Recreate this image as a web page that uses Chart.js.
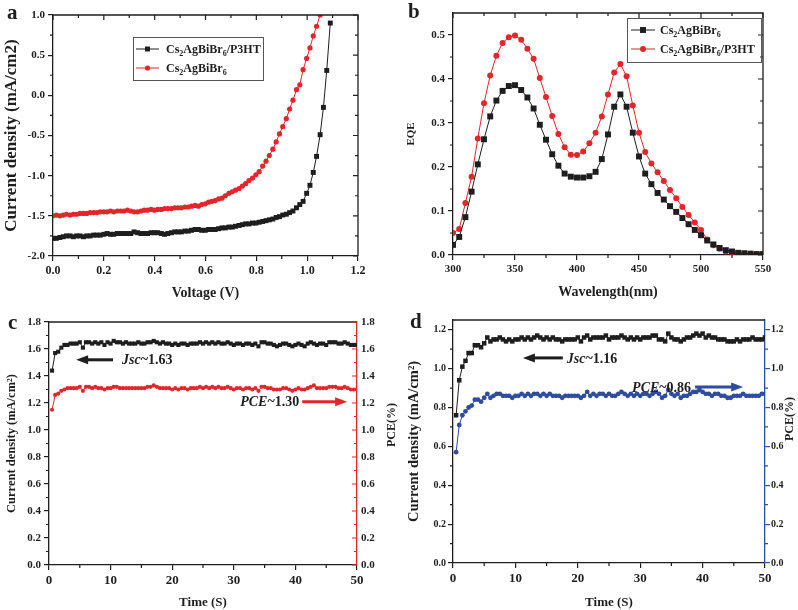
<!DOCTYPE html>
<html>
<head>
<meta charset="utf-8">
<script src="https://cdn.jsdelivr.net/npm/chart.js@4.4.1/dist/chart.umd.min.js"></script>
<style>
  body { margin: 0; background: #fff; }
  #wrap { position: relative; width: 798px; height: 610px; }
  canvas { position: absolute; }
</style>
</head>
<body>
<div id="wrap">
  <canvas id="chartA" width="400" height="305" style="left:0;top:0"></canvas>
  <canvas id="chartB" width="398" height="305" style="left:400px;top:0"></canvas>
  <canvas id="chartC" width="400" height="305" style="left:0;top:305px"></canvas>
  <canvas id="chartD" width="398" height="305" style="left:400px;top:305px"></canvas>
</div>
<script>
// ---- (a) J-V curves ----
const voltage = [0.000,0.013,0.027,0.040,0.053,0.067,0.080,0.093,0.106,0.120,
  0.133,0.146,0.160,0.173,0.186,0.200,0.213,0.226,0.239,0.253,
  0.266,0.279,0.293,0.306,0.319,0.333,0.346,0.359,0.372,0.386,
  0.399,0.412,0.426,0.439,0.452,0.466,0.479,0.492,0.505,0.519,
  0.532,0.545,0.559,0.572,0.585,0.599,0.612,0.625,0.638,0.652,
  0.665,0.678,0.692,0.705,0.718,0.732,0.745,0.758,0.771,0.785,
  0.798,0.811,0.825,0.838,0.851,0.865,0.878,0.891,0.904,0.918,
  0.931,0.944,0.958,0.971,0.984,0.998,1.011,1.024,1.037,1.051,
  1.064,1.077,1.091];
const jvP3HT = [-1.78,-1.78,-1.77,-1.76,-1.75,-1.75,-1.76,-1.75,-1.75,-1.76,
  -1.75,-1.75,-1.74,-1.74,-1.74,-1.73,-1.72,-1.73,-1.73,-1.72,
  -1.72,-1.72,-1.72,-1.72,-1.70,-1.71,-1.72,-1.72,-1.72,-1.71,
  -1.71,-1.71,-1.72,-1.73,-1.72,-1.71,-1.70,-1.70,-1.70,-1.69,
  -1.69,-1.68,-1.67,-1.67,-1.68,-1.68,-1.67,-1.67,-1.67,-1.66,
  -1.65,-1.65,-1.64,-1.64,-1.63,-1.62,-1.61,-1.60,-1.60,-1.59,
  -1.59,-1.58,-1.57,-1.56,-1.55,-1.54,-1.52,-1.51,-1.49,-1.48,
  -1.46,-1.44,-1.40,-1.36,-1.32,-1.22,-1.12,-0.96,-0.76,-0.49,
  -0.15,0.31,0.90];
const jvBare = [-1.50,-1.49,-1.50,-1.49,-1.48,-1.49,-1.48,-1.48,-1.47,-1.47,
  -1.47,-1.46,-1.46,-1.46,-1.45,-1.45,-1.45,-1.44,-1.45,-1.44,
  -1.44,-1.44,-1.43,-1.44,-1.45,-1.45,-1.44,-1.43,-1.43,-1.42,
  -1.43,-1.42,-1.42,-1.41,-1.41,-1.41,-1.40,-1.40,-1.40,-1.39,
  -1.39,-1.38,-1.37,-1.38,-1.36,-1.35,-1.33,-1.32,-1.31,-1.29,
  -1.28,-1.25,-1.22,-1.20,-1.18,-1.16,-1.13,-1.10,-1.06,-1.03,
  -0.99,-0.95,-0.88,-0.82,-0.75,-0.67,-0.58,-0.48,-0.39,-0.29,
  -0.17,-0.06,0.07,0.13,0.32,0.46,0.59,0.74,0.86,1.00];

// ---- (b) EQE ----
const wavelength = [300,305,310,315,320,325,330,335,340,345,350,355,360,365,370,375,380,385,390,395,
  400,405,410,415,420,425,430,435,440,445,450,455,460,465,470,475,480,485,490,495,
  500,505,510,515,520,525,530,535,540,545,550];
const eqeBare = [0.023,0.041,0.086,0.144,0.206,0.263,0.315,0.351,0.373,0.384,
  0.386,0.375,0.358,0.333,0.296,0.262,0.229,0.203,0.185,0.178,
  0.176,0.176,0.179,0.189,0.218,0.274,0.337,0.365,0.337,0.278,
  0.224,0.185,0.161,0.141,0.126,0.111,0.098,0.084,0.070,0.057,
  0.045,0.033,0.024,0.016,0.011,0.008,0.005,0.004,0.003,0.002,0.002];
const eqeP3HT = [0.050,0.059,0.118,0.178,0.265,0.345,0.408,0.453,0.482,0.495,
  0.499,0.489,0.469,0.446,0.402,0.359,0.316,0.275,0.245,0.228,
  0.227,0.235,0.254,0.278,0.315,0.365,0.415,0.434,0.406,0.340,
  0.278,0.234,0.208,0.188,0.168,0.148,0.129,0.109,0.091,0.074,
  0.057,0.035,0.022,0.014,0.008,0.006,0.004,0.003,0.003,0.002,0.002];

// ---- (c), (d) stability ----
const time = [0.5,1,1.5,2,2.5,3,3.5,4,4.5,5,5.5,6,6.5,7,7.5,8,8.5,9,9.5,10,
  10.5,11,11.5,12,12.5,13,13.5,14,14.5,15,15.5,16,16.5,17,17.5,18,18.5,19,19.5,20,
  20.5,21,21.5,22,22.5,23,23.5,24,24.5,25,25.5,26,26.5,27,27.5,28,28.5,29,29.5,30,
  30.5,31,31.5,32,32.5,33,33.5,34,34.5,35,35.5,36,36.5,37,37.5,38,38.5,39,39.5,40,
  40.5,41,41.5,42,42.5,43,43.5,44,44.5,45,45.5,46,46.5,47,47.5,48,48.5,49,49.5,50];
const jscC = [1.44,1.57,1.58,1.61,1.63,1.63,1.64,1.64,1.64,1.65,
  1.61,1.65,1.65,1.64,1.65,1.64,1.65,1.63,1.65,1.64,
  1.66,1.65,1.65,1.64,1.65,1.64,1.64,1.64,1.65,1.64,
  1.64,1.65,1.65,1.66,1.65,1.64,1.65,1.64,1.64,1.63,
  1.64,1.63,1.64,1.64,1.63,1.64,1.64,1.64,1.65,1.64,
  1.65,1.64,1.65,1.64,1.65,1.64,1.64,1.65,1.64,1.63,
  1.64,1.64,1.63,1.64,1.64,1.63,1.64,1.62,1.65,1.65,
  1.64,1.64,1.63,1.62,1.63,1.64,1.64,1.63,1.62,1.63,
  1.64,1.63,1.62,1.64,1.65,1.64,1.63,1.64,1.64,1.63,
  1.65,1.65,1.65,1.64,1.64,1.65,1.64,1.63,1.63,1.63];
const pceC = [1.15,1.26,1.27,1.29,1.30,1.31,1.31,1.31,1.31,1.32,
  1.29,1.32,1.32,1.31,1.32,1.31,1.31,1.30,1.31,1.31,
  1.32,1.32,1.31,1.31,1.31,1.31,1.31,1.31,1.31,1.31,
  1.31,1.32,1.32,1.33,1.32,1.31,1.31,1.31,1.31,1.30,
  1.31,1.30,1.31,1.31,1.30,1.31,1.31,1.31,1.32,1.31,
  1.32,1.31,1.32,1.31,1.32,1.31,1.31,1.32,1.31,1.30,
  1.31,1.31,1.30,1.31,1.31,1.30,1.31,1.29,1.32,1.32,
  1.31,1.31,1.30,1.30,1.30,1.31,1.31,1.30,1.29,1.30,
  1.31,1.30,1.30,1.31,1.32,1.33,1.31,1.31,1.31,1.31,
  1.32,1.32,1.32,1.31,1.31,1.32,1.31,1.30,1.30,1.30];
const jscD = [0.76,0.94,1.01,1.04,1.08,1.08,1.12,1.12,1.11,1.13,
  1.16,1.14,1.15,1.15,1.16,1.15,1.14,1.15,1.14,1.15,
  1.15,1.16,1.15,1.16,1.15,1.16,1.17,1.16,1.15,1.16,
  1.15,1.16,1.15,1.15,1.14,1.15,1.15,1.15,1.15,1.16,
  1.14,1.16,1.17,1.15,1.16,1.16,1.16,1.16,1.17,1.15,
  1.16,1.16,1.16,1.17,1.16,1.15,1.16,1.15,1.16,1.15,
  1.16,1.16,1.16,1.17,1.17,1.15,1.15,1.14,1.18,1.16,
  1.15,1.15,1.14,1.15,1.16,1.16,1.17,1.18,1.17,1.18,
  1.16,1.17,1.16,1.16,1.15,1.15,1.15,1.14,1.14,1.14,
  1.15,1.14,1.15,1.15,1.15,1.16,1.15,1.15,1.15,1.16];
const pceD = [0.57,0.71,0.76,0.78,0.80,0.81,0.84,0.84,0.83,0.85,
  0.87,0.85,0.86,0.87,0.87,0.86,0.86,0.86,0.85,0.86,
  0.86,0.87,0.86,0.87,0.86,0.87,0.87,0.86,0.87,0.86,
  0.87,0.86,0.86,0.86,0.85,0.86,0.86,0.86,0.86,0.86,
  0.85,0.86,0.88,0.86,0.87,0.86,0.87,0.87,0.86,0.87,
  0.86,0.86,0.87,0.88,0.87,0.86,0.87,0.86,0.87,0.86,
  0.87,0.87,0.86,0.87,0.88,0.87,0.85,0.86,0.89,0.87,
  0.86,0.87,0.85,0.86,0.86,0.87,0.88,0.88,0.89,0.88,
  0.87,0.87,0.86,0.87,0.87,0.86,0.86,0.85,0.85,0.86,
  0.86,0.86,0.87,0.86,0.86,0.86,0.86,0.86,0.87,0.87];

const SERIF = "'Liberation Serif', 'Times New Roman', serif";
const BLACK = '#1e1e1e', RED = '#e3262b', BLUE = '#2f4c9e';
const SUBS = '₀₁₂₃₄₅₆₇₈₉';

function pts(xs, ys) { return ys.map((y, i) => ({x: xs[i], y: y})); }

// fixed axis box sizes so the four plot areas land where the figure has them
function axis(o) {
  const col = o.color || BLACK;
  return {
    type: 'linear', position: o.position, min: o.min, max: o.max,
    afterFit: s => { if (o.width) s.width = o.width; else s.height = o.height; },
    afterBuildTicks: s => {
      const t = [];
      for (let k = 0; o.min + k * o.step <= o.max + 1e-9; k++) t.push({value: +(o.min + k * o.step).toFixed(6)});
      s.ticks = t;
    },
    border: {display: true, color: col, width: 1.3},
    grid: {drawOnChartArea: false, drawTicks: o.ticksOut !== false, tickLength: 5, color: col, lineWidth: 1.2},
    ticks: {stepSize: o.step, padding: o.pad ?? 3, color: BLACK,
      font: {family: SERIF, weight: 'bold', size: o.fs || 11},
      callback: v => o.dec === 0 ? String(Math.round(v)) : v.toFixed(1)},
    title: {display: !!o.title, text: o.title || '', color: BLACK,
      font: {family: SERIF, weight: 'bold', size: o.ts || 13},
      padding: {top: o.tpad || 0, bottom: o.tpad || 0}}
  };
}

function richText(ctx, str, x, y, size, italic) {
  let cx = x;
  for (const ch of str) {
    const k = SUBS.indexOf(ch);
    if (k >= 0) {
      ctx.font = `bold ${Math.round(size * 0.68)}px ${SERIF}`;
      ctx.fillText(String(k), cx, y + size * 0.28);
      cx += ctx.measureText(String(k)).width;
    } else {
      ctx.font = `${italic ? 'italic ' : ''}bold ${size}px ${SERIF}`;
      ctx.fillText(ch, cx, y);
      cx += ctx.measureText(ch).width;
    }
  }
  return cx - x;
}

function marker(ctx, style, x, y, r, color) {
  ctx.fillStyle = color;
  ctx.beginPath();
  if (style === 'rect') {
    const h = r * Math.SQRT1_2;
    ctx.rect(x - h, y - h, 2 * h, 2 * h);
  } else {
    ctx.arc(x, y, r, 0, Math.PI * 2);
  }
  ctx.fill();
}

function drawMarks(chart, m) {
  const ctx = chart.ctx, a = chart.chartArea, s = chart.scales[m.scale];
  const vals = s.ticks.map(t => t.value);
  const list = [];
  if (m.major) vals.forEach(v => list.push([v, 5]));
  if (m.minor) for (let i = 1; i < vals.length; i++) list.push([(vals[i - 1] + vals[i]) / 2, 3]);
  const edge = a[m.edge];
  const out = (m.edge === 'bottom' || m.edge === 'right') ? 1 : -1;
  const dir = m.inward ? -out : out;
  ctx.strokeStyle = m.color || BLACK;
  ctx.lineWidth = 1.2;
  ctx.beginPath();
  list.forEach(([v, len]) => {
    const p = s.getPixelForValue(v);
    if (s.isHorizontal()) { ctx.moveTo(p, edge); ctx.lineTo(p, edge + dir * len); }
    else { ctx.moveTo(edge, p); ctx.lineTo(edge + dir * len, p); }
  });
  ctx.stroke();
}

function drawLegend(chart, lg) {
  const ctx = chart.ctx;
  const [x1, y1, x2, y2] = lg.box;
  ctx.strokeStyle = '#555';
  ctx.lineWidth = 1;
  ctx.strokeRect(x1 + 0.5, y1 + 0.5, x2 - x1, y2 - y1);
  lg.rows.forEach(row => {
    const ds = chart.data.datasets[row.ds];
    ctx.strokeStyle = ds.borderColor;
    ctx.beginPath();
    ctx.moveTo(lg.line[0], row.y);
    ctx.lineTo(lg.line[1], row.y);
    ctx.stroke();
    marker(ctx, ds.pointStyle, (lg.line[0] + lg.line[1]) / 2, row.y, ds.pointRadius, ds.pointBackgroundColor);
    ctx.fillStyle = BLACK;
    richText(ctx, ds.label, lg.textX, row.y + lg.size * 0.33, lg.size);
  });
}

function drawNote(chart, n) {
  const ctx = chart.ctx, sx = chart.scales.x, sy = chart.scales.y;
  const xt = sx.getPixelForValue(n.tail), xh = sx.getPixelForValue(n.head), y = sy.getPixelForValue(n.y);
  const d = Math.sign(xh - xt);
  ctx.strokeStyle = n.color;
  ctx.fillStyle = n.color;
  ctx.lineWidth = 3;
  ctx.beginPath(); ctx.moveTo(xt, y); ctx.lineTo(xh - d * 10, y); ctx.stroke();
  ctx.beginPath(); ctx.moveTo(xh, y); ctx.lineTo(xh - d * 12, y - 4.5); ctx.lineTo(xh - d * 12, y + 4.5); ctx.closePath(); ctx.fill();
  // label: italic symbol then value
  ctx.font = `italic bold ${n.size}px ${SERIF}`;
  const w1 = ctx.measureText(n.text[0]).width;
  ctx.font = `bold ${n.size}px ${SERIF}`;
  const w2 = ctx.measureText(n.text[1]).width;
  const x0 = d < 0 ? xt + n.gap : xt - n.gap - w1 - w2;
  const by = y + n.size * 0.33;
  ctx.fillStyle = BLACK;
  ctx.font = `italic bold ${n.size}px ${SERIF}`;
  ctx.fillText(n.text[0], x0, by);
  ctx.font = `bold ${n.size}px ${SERIF}`;
  ctx.fillText(n.text[1], x0 + w1, by);
}

const decorPlugin = {
  id: 'decor',
  afterDraw(chart, args, o) {
    const ctx = chart.ctx, a = chart.chartArea;
    ctx.save();
    ctx.textAlign = 'left';
    ctx.textBaseline = 'alphabetic';
    ctx.lineWidth = 1.3;
    ctx.strokeStyle = BLACK;
    ctx.beginPath();
    ctx.moveTo(a.left, a.top); ctx.lineTo(a.right, a.top);
    if (o.rightLine) { ctx.lineTo(a.right, a.bottom); }
    ctx.stroke();
    (o.marks || []).forEach(m => drawMarks(chart, m));
    if (o.legend) drawLegend(chart, o.legend);
    (o.notes || []).forEach(n => drawNote(chart, n));
    if (o.rightTitle) {
      // right axis title reads bottom-to-top, like the left one
      const t = o.rightTitle;
      ctx.save();
      ctx.translate(t.x, t.y);
      ctx.rotate(-Math.PI / 2);
      ctx.textAlign = 'center';
      ctx.textBaseline = 'middle';
      ctx.fillStyle = BLACK;
      ctx.font = `bold ${t.size}px ${SERIF}`;
      ctx.fillText(t.text, 0, 0);
      ctx.restore();
    }
    ctx.fillStyle = BLACK;
    ctx.font = `bold 21px ${SERIF}`;
    ctx.fillText(o.letter, o.letterAt[0], o.letterAt[1]);
    ctx.restore();
  }
};

function series(label, xs, ys, color, style, r, axisId) {
  return {
    label: label, data: pts(xs, ys), showLine: true, yAxisID: axisId || 'y',
    borderColor: color, borderWidth: 1, pointStyle: style, pointRadius: r,
    pointBackgroundColor: color, pointBorderColor: color, pointBorderWidth: 0
  };
}

function baseOptions(padding, scales, decor) {
  return {
    responsive: false, animation: false, devicePixelRatio: 1,
    layout: {padding: padding},
    scales: scales,
    plugins: {legend: {display: false}, tooltip: {enabled: false}, decor: decor}
  };
}

// (a)
new Chart(document.getElementById('chartA'), {
  type: 'scatter',
  data: {datasets: [
    series('Cs₂AgBiBr₆/P3HT', voltage, jvP3HT, BLACK, 'rect', 3.5),
    series('Cs₂AgBiBr₆', voltage, jvBare, RED, 'circle', 2.6)
  ]},
  options: baseOptions({left: 0, right: 42, top: 15, bottom: 0}, {
    x: axis({position: 'bottom', min: 0, max: 1.2, step: 0.2, height: 49, fs: 12, title: 'Voltage (V)', ts: 14, tpad: 3}),
    y: axis({position: 'left', min: -2, max: 1, step: 0.5, width: 53, fs: 11, title: 'Current density (mA/cm2)', ts: 17, tpad: 1})
  }, {
    letter: 'a', letterAt: [7, 19], rightLine: true,
    marks: [
      {scale: 'x', edge: 'bottom', minor: true},
      {scale: 'x', edge: 'top', inward: true, major: true, minor: true},
      {scale: 'y', edge: 'left', minor: true},
      {scale: 'y', edge: 'right', inward: true, major: true, minor: true}
    ],
    legend: {box: [133, 37, 263, 80], line: [136, 159], textX: 166, size: 12, rows: [{ds: 0, y: 49}, {ds: 1, y: 68}]}
  }),
  plugins: [decorPlugin]
});

// (b)
new Chart(document.getElementById('chartB'), {
  type: 'scatter',
  data: {datasets: [
    series('Cs₂AgBiBr₆', wavelength, eqeBare, BLACK, 'rect', 4.2),
    series('Cs₂AgBiBr₆/P3HT', wavelength, eqeP3HT, RED, 'circle', 3)
  ]},
  options: baseOptions({left: 0, right: 35, top: 13, bottom: 0}, {
    x: axis({position: 'bottom', min: 300, max: 550, step: 50, dec: 0, height: 50, fs: 11, title: 'Wavelength(nm)', ts: 14, tpad: 4}),
    y: axis({position: 'left', min: 0, max: 0.55, step: 0.1, width: 53, fs: 11, title: 'EQE', ts: 11, tpad: 5})
  }, {
    letter: 'b', letterAt: [8, 18], rightLine: true,
    marks: [
      {scale: 'x', edge: 'bottom', minor: true},
      {scale: 'x', edge: 'top', inward: true, major: true, minor: true},
      {scale: 'y', edge: 'left', minor: true},
      {scale: 'y', edge: 'right', inward: true, major: true, minor: true}
    ],
    legend: {box: [227, 18, 361, 62], line: [231, 255], textX: 260, size: 12, rows: [{ds: 0, y: 30}, {ds: 1, y: 49}]}
  }),
  plugins: [decorPlugin]
});

// (c)
new Chart(document.getElementById('chartC'), {
  type: 'scatter',
  data: {datasets: [
    series('Jsc', time, jscC, BLACK, 'rect', 2.9),
    series('PCE', time, pceC, RED, 'circle', 2.1, 'y1')
  ]},
  options: baseOptions({left: 0, right: 0, top: 17, bottom: 0}, {
    x: axis({position: 'bottom', min: 0, max: 50, step: 10, dec: 0, height: 45, fs: 13, title: 'Time (S)', ts: 13, tpad: 0}),
    y: axis({position: 'left', min: 0, max: 1.8, step: 0.2, width: 49, fs: 11, title: 'Current density (mA/cm²)', ts: 12.5, tpad: 4}),
    y1: axis({position: 'right', min: 0, max: 1.8, step: 0.2, width: 43, fs: 11, color: RED, ticksOut: false, pad: 4})
  }, {
    letter: 'c', letterAt: [8, 24],
    rightTitle: {text: 'PCE(%)', x: 392, y: 120, size: 12},
    marks: [
      {scale: 'x', edge: 'bottom', minor: true},
      {scale: 'y', edge: 'left', minor: true},
      {scale: 'y1', edge: 'right', inward: true, major: true, minor: true, color: RED}
    ],
    notes: [
      {tail: 10.4, head: 4.4, y: 1.52, color: BLACK, text: ['Jsc', '~1.63'], size: 14, gap: 9},
      {tail: 41.1, head: 48.4, y: 1.21, color: RED, text: ['PCE', '~1.30'], size: 14, gap: 3}
    ]
  }),
  plugins: [decorPlugin]
});

// (d)
new Chart(document.getElementById('chartD'), {
  type: 'scatter',
  data: {datasets: [
    series('Jsc', time, jscD, BLACK, 'rect', 3.2),
    series('PCE', time, pceD, BLUE, 'circle', 2.4, 'y1')
  ]},
  options: baseOptions({left: 0, right: 0, top: 15, bottom: 0}, {
    x: axis({position: 'bottom', min: 0, max: 50, step: 10, dec: 0, height: 47, fs: 13, title: 'Time (S)', ts: 13, tpad: 0}),
    y: axis({position: 'left', min: 0, max: 1.25, step: 0.2, width: 53, fs: 10, pad: 2, title: 'Current density (mA/cm²)', ts: 14.5, tpad: 6}),
    y1: axis({position: 'right', min: 0, max: 1.25, step: 0.2, width: 33, fs: 10, color: BLUE, pad: 1})
  }, {
    letter: 'd', letterAt: [10, 23],
    rightTitle: {text: 'PCE(%)', x: 390, y: 114, size: 12},
    marks: [
      {scale: 'x', edge: 'bottom', minor: true},
      {scale: 'y', edge: 'left', minor: true},
      {scale: 'y1', edge: 'right', minor: true, color: BLUE}
    ],
    notes: [
      {tail: 17.6, head: 11.2, y: 1.055, color: BLACK, text: ['Jsc', '~1.16'], size: 14, gap: 4},
      {tail: 38.8, head: 46.5, y: 0.905, color: BLUE, text: ['PCE', '~0.86'], size: 14, gap: 4}
    ]
  }),
  plugins: [decorPlugin]
});
</script>
</body>
</html>
